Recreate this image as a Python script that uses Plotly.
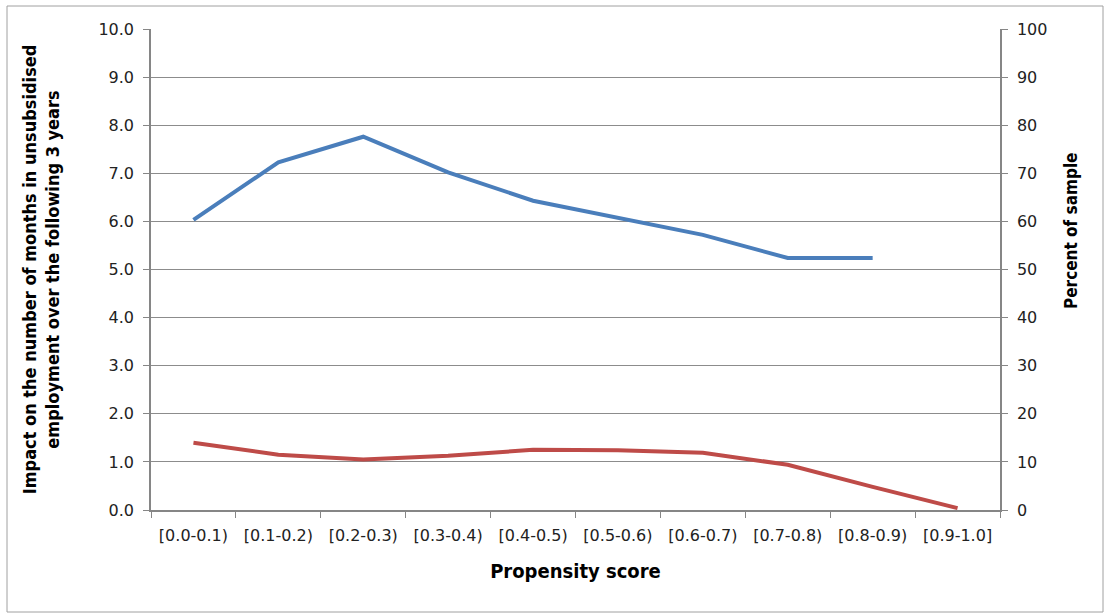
import plotly.graph_objects as go

categories = ["[0.0-0.1)", "[0.1-0.2)", "[0.2-0.3)", "[0.3-0.4)", "[0.4-0.5)",
              "[0.5-0.6)", "[0.6-0.7)", "[0.7-0.8)", "[0.8-0.9)", "[0.9-1.0]"]
impact_months = [6.03, 7.23, 7.76, 7.02, 6.43, 6.08, 5.72, 5.24, 5.24, None]
percent_sample = [14.0, 11.5, 10.5, 11.3, 12.5, 12.4, 11.9, 9.4, 4.8, 0.4]

left_ticks = [f"{v:.1f}" for v in range(0, 11)]
right_ticks = [str(v) for v in range(0, 101, 10)]

W, H = 1105, 614
L, R, T, B = 151, 1000, 29, 510

fig = go.Figure()
fig.add_trace(go.Scatter(x=categories, y=impact_months, mode="lines",
                         line=dict(color="#4a7ebb", width=4), yaxis="y",
                         connectgaps=False, showlegend=False))
fig.add_trace(go.Scatter(x=categories, y=percent_sample, mode="lines",
                         line=dict(color="#be4b48", width=4), yaxis="y2",
                         showlegend=False))

tick_font = dict(family="DejaVu Sans", size=16, color="#222222")
narrow = "DejaVu Sans Condensed, Liberation Sans Narrow, Roboto Condensed, Liberation Sans"
title_font = dict(family=narrow, size=18, color="#000000")
axis_grey = "#868686"

fig.update_layout(
    width=W, height=H,
    margin=dict(l=L, r=W - R, t=T, b=H - B),
    paper_bgcolor="white", plot_bgcolor="white",
    xaxis=dict(
        type="category", range=[-0.5, 9.5], tickson="boundaries",
        ticks="outside", ticklen=6, tickcolor=axis_grey,
        showline=True, linecolor=axis_grey, linewidth=1.5,
        showgrid=False, tickfont=tick_font, ticklabelstandoff=10,
        title=dict(text="<b>Propensity score</b>",
                   font=dict(family=narrow, size=20, color="#000000"), standoff=20),
    ),
    yaxis=dict(
        range=[0, 10], tickvals=list(range(0, 11)), ticktext=left_ticks,
        ticks="outside", ticklen=6, tickcolor=axis_grey,
        showline=True, linecolor=axis_grey, linewidth=1.5,
        showgrid=True, gridcolor="#8c8c8c", gridwidth=1,
        zeroline=False, tickfont=tick_font, ticklabelstandoff=6,
        title=dict(text="<b>Impact on the number of months in unsubsidised<br>employment over the following 3 years</b>",
                   font=title_font, standoff=34),
    ),
    yaxis2=dict(
        overlaying="y", side="right",
        range=[0, 100], tickvals=list(range(0, 101, 10)), ticktext=right_ticks,
        ticks="outside", ticklen=6, tickcolor=axis_grey,
        showline=True, linecolor=axis_grey, linewidth=1.5,
        showgrid=False, zeroline=False, tickfont=tick_font, ticklabelstandoff=6,
    ),
)

pw, ph = R - L, B - T

# right axis title, placed a little above the vertical centre
fig.add_annotation(text="<b>Percent of sample</b>", textangle=-90,
                   xref="paper", yref="paper",
                   x=(1071 - L) / pw, y=(B - 231) / ph,
                   xanchor="center", yanchor="middle", showarrow=False,
                   font=dict(family=narrow, size=17, color="#000000"))

# outer chart border
fig.add_shape(type="rect", xref="paper", yref="paper",
              x0=(7 - L) / pw, x1=(1103 - L) / pw,
              y0=(B - 612) / ph, y1=(B - 6) / ph,
              line=dict(color="#a0a0a0", width=1), layer="below")

fig.write_html("out.html")
